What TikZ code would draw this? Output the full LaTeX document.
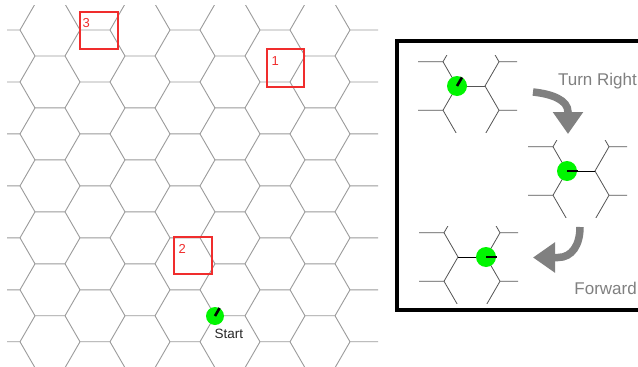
\documentclass[tikz,border=0pt]{standalone}
\usepackage{fontspec}
\setmainfont{Liberation Sans}
\usetikzlibrary{arrows.meta}
\definecolor{gridgray}{RGB}{155,155,155}
\definecolor{minigray}{RGB}{85,85,85}
\definecolor{antgreen}{RGB}{0,245,0}
\definecolor{boxred}{RGB}{240,45,45}
\definecolor{arrowgray}{RGB}{128,128,128}
\tikzset{
  gridline/.style={draw=gridgray, line width=0.9pt},
  mini/.style={draw=minigray, line width=0.8pt},
  antdot/.style={circle, fill=antgreen, draw=none, inner sep=0pt, minimum size=#1},
  antdot/.default=20pt,
  heading/.style={draw=black, line width=2.6pt},
  markbox/.style={draw=boxred, line width=1.4pt},
  marklabel/.style={text=boxred, font=\fontsize{13}{13}\selectfont, anchor=base west, inner sep=0pt},
  bigarrow/.style={draw=arrowgray, line width=7.5pt, -{Triangle[width=29pt,length=22pt]}},
  caption/.style={text=arrowgray, font=\fontsize{17}{17}\selectfont, anchor=base east, inner sep=0pt},
}
\newcommand\hexfrag[2]{%
  \begin{scope}[shift={(#1,#2)}]
    \clip (-39,-31) rectangle (60,46);
    \draw[mini] (-42,-24.25) -- (-14,-24.25) -- (0,-48.5);
    \draw[mini] (-14,-24.25) -- (0,0) -- (-14,24.25) -- (-42,24.25);
    \draw[mini] (-14,24.25) -- (0,48.5);
    \draw[mini] (0,0) -- (28,0);
    \draw[mini] (28,0) -- (42,-24.25) -- (70,-24.25);
    \draw[mini] (42,-24.25) -- (28,-48.5);
    \draw[mini] (28,0) -- (42,24.25) -- (70,24.25);
    \draw[mini] (42,24.25) -- (28,48.5);
  \end{scope}}
\begin{document}
\begin{tikzpicture}[x=1pt,y=-1pt]
\useasboundingbox (0,0) rectangle (638,367);
\fill[white] (0,0) rectangle (638,367);
% main hexagonal grid
\begin{scope}
  \clip (7,5.5) rectangle (378,367);
  \foreach \k in {-2,...,14}{
    \pgfmathsetmacro\yy{30+\k*25.98}
    \pgfmathsetmacro\yn{\yy+25.98}
    \pgfmathsetmacro\off{ifthenelse(mod(\k+20,2)==1,35,-10)}
    \foreach \m in {-1,...,4}{
      \pgfmathsetmacro\a{\off+90*\m}
      \draw[gridline] ({\a-15},\yn) -- (\a,\yy) -- ({\a+30},\yy) -- ({\a+45},\yn);
    }
  }
\end{scope}
% marked boxes
\draw[markbox] (80,12) rectangle (118,49);
\node[marklabel] (l3) at (82.5,27) {3};
\draw[markbox] (267,49) rectangle (304,87);
\node[marklabel] (l1) at (271.5,65) {1};
\draw[markbox] (174,237) rectangle (212,274);
\node[marklabel] (l2) at (178.5,253.5) {2};
% start
\node[antdot=18pt] (start) at (215,316) {};
\draw[heading] (start.center) -- ++(4.6,-8);
\node[anchor=base west, inner sep=0pt, text={rgb,255:red,40;green,40;blue,40}, font=\fontsize{13.5}{13.5}\selectfont] (startlbl) at (214.3,338) {Start};
% inset panel
\begin{scope}
  \clip (0,0) rectangle (638,367);
  \draw[black, line width=4pt] (397,41) rectangle (645,310);
\end{scope}
% fragment 1
\hexfrag{457}{86}
\node[antdot] (d1) at (457,86) {};
\draw[heading] (d1.center) -- ++(5,-8.6);
% fragment 2
\hexfrag{567}{171}
\coordinate (w2) at (595,171);
\node[antdot] (d2) at (567,171) {};
\draw[black, line width=0.9pt] (d2.east) -- (w2);
\draw[heading] (d2.center) -- ++(11,0);
% fragment 3
\hexfrag{458}{257}
\coordinate (u3) at (458,257);
\node[antdot] (d3) at (486,257) {};
\draw[black, line width=0.9pt] (u3) -- (d3.west);
\draw[heading] (d3.center) -- ++(11,0);
% arrows and captions
\draw[bigarrow] (533,92) .. controls (552,94) and (568,100) .. (568,112) -- (568,134);
\node[caption] (turn) at (637,85) {Turn Right};
\draw[bigarrow] (580,227) .. controls (580,245) and (572,257.5) .. (558,257.5) -- (533,257.5);
\node[caption] (fwd) at (637,294) {Forward};
\end{tikzpicture}
\end{document}
